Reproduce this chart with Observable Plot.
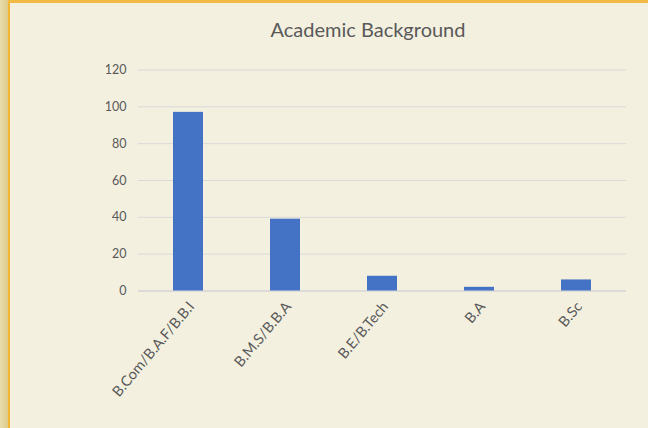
<!DOCTYPE html>
<html>
<head>
<meta charset="utf-8">
<script src="https://cdn.jsdelivr.net/npm/d3@7"></script>
<script src="https://cdn.jsdelivr.net/npm/@observablehq/plot@0.6"></script>
<style>
  html, body { margin: 0; padding: 0; }
  body { width: 648px; height: 428px; background: #F3F0E0; position: relative; overflow: hidden; font-family: Lato, "Open Sans", sans-serif; }
  #leftstrip { position: absolute; left: 0; top: 0; width: 8px; height: 428px; background: linear-gradient(to right, #EBDDAA, #DCCB8C); }
  #leftline { position: absolute; left: 8px; top: 0; width: 2px; height: 428px; background: #F2B632; }
  #topline { position: absolute; left: 8px; top: 0; width: 640px; height: 3px; background: #F2BA45; }
  #title { height: 50px; line-height: 58px; text-align: center; padding-left: 88px; font-size: 20px; color: #595959; }
  #chart { position: relative; }
</style>
</head>
<body>
<div id="leftstrip"></div>
<div id="leftline"></div>
<div id="topline"></div>
<div id="title">Academic Background</div>
<div id="chart"></div>
<script>
const categories = ["B.Com/B.A.F/B.B.I", "B.M.S/B.B.A", "B.E/B.Tech", "B.A", "B.Sc"];
const counts = [97, 39, 8, 2, 6];
const yTicks = [0, 20, 40, 60, 80, 100, 120];

const data = categories.map((c, i) => ({category: c, count: counts[i]}));

const chart = Plot.plot({
  width: 648,
  height: 378,
  marginTop: 19.5,
  marginBottom: 137.5,
  marginLeft: 138,
  marginRight: 22,
  style: {background: "transparent", fontFamily: "Lato, 'Open Sans', sans-serif", fontSize: "12px", color: "#595959"},
  x: {domain: categories, paddingInner: 0.69, paddingOuter: 0.345, label: null},
  y: {domain: [0, 120], label: null},
  marks: [
    Plot.gridY(yTicks, {stroke: "#D9D9D9", strokeOpacity: 1, strokeWidth: 1}),
    Plot.ruleY([0], {stroke: "#D9D9D9", strokeWidth: 1.5}),
    Plot.barY(data, {x: "category", y: "count", fill: "#4472C4"}),
    Plot.axisY(yTicks, {tickSize: 0, tickPadding: 12, fill: "#595959", fontSize: 12.5, label: null}),
    Plot.axisX({tickSize: 0, tickRotate: -50, tickPadding: 13, dx: 3, fill: "#595959", fontSize: 14.5, label: null})
  ]
});
document.getElementById("chart").appendChild(chart);
</script>
</body>
</html>
